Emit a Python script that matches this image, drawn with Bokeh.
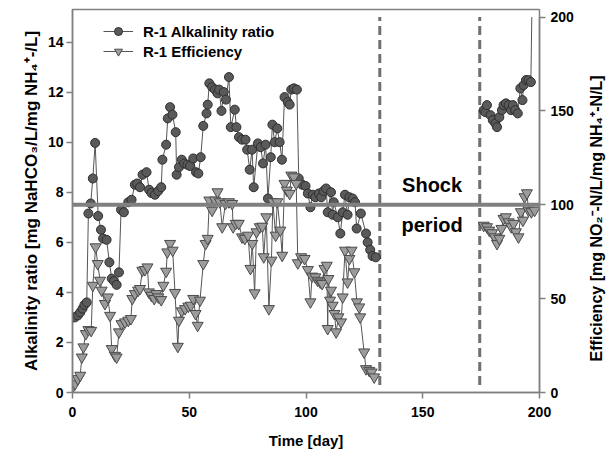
import math
from bokeh.plotting import figure
from bokeh.models import Range1d, LinearAxis, Span, Label, Legend, LegendItem, FixedTicker
from bokeh.embed import file_html
from bokeh.resources import INLINE

# ---------------- data ----------------
alk_day_1 = [0, 1, 2.3, 3.3, 4.3, 5.1, 6.1, 6.8, 7.8, 8.7, 9.7, 11.0, 12.2, 13.1, 14.6, 15.8, 16.8, 17.8, 18.9, 19.9,
             20.8, 22.0, 23.9, 25.3, 26.7, 27.7, 28.9, 30.0, 31.7, 32.8, 33.8, 35.3, 36.7, 38.0, 38.5, 40.1, 40.8, 41.8,
             42.8, 44.2, 44.6, 45.6, 46.8, 47.9, 49.2, 50.3, 51.7, 52.9, 53.9, 54.9, 56.0, 57.4, 57.9, 58.6, 59.8, 61.0,
             62.1, 62.8, 63.8, 64.8, 65.7, 67.0, 67.8, 69.5, 70.2, 71.3, 72.6, 74.1, 74.8, 75.9, 76.9, 77.6, 79.4, 80.6,
             81.6, 82.7, 83.7, 84.9, 85.6, 86.6, 87.7, 88.7, 89.7, 90.8, 92.2, 93.0, 93.7, 94.8, 96.1, 96.9, 98.4, 99.8,
             100.8, 101.9, 102.9, 104.0, 105.5, 106.5, 107.5, 108.6, 109.3, 110.7, 111.4, 111.9, 113.6, 114.7, 115.7,
             116.7, 117.8, 118.6, 120.0, 121.0, 121.7, 123.5, 125.7, 126.4, 127.5, 128.5, 129.9]
alk_1 = [3.0, 3.0, 3.08, 3.2, 3.35, 3.5, 3.6, 7.15, 7.55, 8.55, 9.97, 7.05, 6.5, 6.15, 6.1, 5.2, 4.55, 4.45, 4.3, 4.8,
         7.3, 7.2, 7.6, 7.7, 8.3, 8.35, 8.2, 8.7, 8.8, 8.1, 7.97, 7.9, 8.05, 8.2, 9.3, 9.9, 10.95, 11.4,
         11.1, 10.4, 8.7, 9.0, 9.3, 9.15, 9.1, 9.05, 9.35, 8.8, 8.75, 9.4, 10.65, 11.15, 11.5, 12.35, 12.2, 12.1,
         11.95, 12.1, 11.25, 12.0, 11.7, 12.6, 10.6, 11.3, 10.6, 10.2, 10.1, 10.1, 9.7, 8.9, 9.7, 8.2, 9.95, 9.8,
         9.15, 9.9, 7.75, 9.4, 10.7, 10.0, 10.55, 10.0, 9.3, 11.8, 11.6, 11.5, 12.1, 12.15, 12.1, 8.55, 8.3, 8.25,
         7.95, 7.4, 7.9, 7.8, 7.95, 7.8, 8.05, 8.15, 7.2, 8.0, 7.1, 7.6, 7.0, 6.35, 7.2,
         7.9, 7.1, 7.8, 7.75, 7.6, 6.55, 7.15, 6.35, 6.0, 5.7, 5.45, 5.4]

alk_day_2 = [176.1, 176.8, 177.5, 179.0, 180.0, 181.1, 181.8, 182.8, 183.9, 184.6, 185.6, 186.8, 187.8, 188.6,
             189.6, 190.7, 191.8, 192.7, 193.2, 194.2, 195.3, 196.3, 196.7]
alk_2 = [11.28, 11.2, 11.48, 11.08, 10.88, 10.75, 10.6, 11.0, 11.28, 11.48, 11.55, 11.48, 11.28, 11.48,
         11.28, 11.15, 12.15, 11.68, 12.28, 12.48, 12.48, 12.4, 15.0]

eff_day_1 = [0, 1.1, 2.3, 3.3, 4.0, 4.7, 5.7, 6.8, 8.0, 8.7,
             9.9, 10.8, 11.8, 12.5, 13.9, 15.1, 16.1, 16.8, 18.2, 18.9,
             19.9, 21.0, 22.5, 23.9, 25.0, 25.6, 26.7, 28.1, 28.9, 29.9,
             31.0, 32.1, 32.7, 33.8, 35.0, 35.9, 36.8, 38.0, 38.9, 40.1,
             40.6, 41.8, 42.9, 43.9, 45.1, 45.6, 46.8, 48.2, 49.6, 50.7,
             51.7, 52.7, 53.6, 54.6, 56.0, 57.0, 57.9, 58.6, 59.8, 61.0,
             62.1, 63.1, 64.1, 65.5, 67.0, 68.4, 68.8, 69.9, 71.2, 72.6,
             73.8, 75.2, 76.2, 77.0, 78.0, 78.8, 80.2, 81.3, 81.9, 83.0,
             84.1, 85.2, 85.8, 87.0, 87.7, 89.0, 89.8, 90.8, 91.8, 93.0,
             93.7, 94.8, 95.8, 96.5, 97.9, 99.4, 100.8, 101.9, 102.6, 104.0,
             105.0, 106.1, 106.9, 107.9, 108.9, 109.3, 109.6, 110.3, 110.7, 111.4,
             112.2, 112.9, 113.9, 115.0, 115.7, 116.7, 117.8, 118.6, 119.5, 120.7,
             121.8, 122.8, 123.2, 124.9, 125.7, 127.1, 128.1, 129.2]
eff_1 = [2.8, 4.6, 7.3, 9.1, 18.8, 24.2, 31.3, 33.4, 33.0, 57,
         77.5, 68.6, 59.7, 54.4, 47.3, 50.8, 41, 23.3, 19.7, 18.8,
         32.2, 36.6, 37.5, 38.4, 39.3, 50, 52.6, 54.4, 55.3, 65,
         65.4, 66.8, 53.5, 51.7, 50, 52.6, 50.8, 49.4, 57, 64.5,
         74.8, 79.3, 75.7, 53.2, 24.5, 38.4, 43.4, 44.6, 45.9, 46.4,
         50, 42, 35.7, 49.1, 68.6, 79.3, 82, 102.4, 97, 102.4,
         106.8, 101.5, 88.2, 100.6, 101.5, 100.6, 88.2, 90, 90, 82.8,
         82, 83.7, 66, 79.3, 53, 85.5, 88.2, 88.5, 72.2, 93.5,
         44.6, 70.4, 101.5, 83.7, 101.5, 86.4, 73, 111.3, 107.7, 106,
         115.7, 114.8, 111.3, 69, 72.2, 71.3, 65.4, 48.2, 61.9, 61.5,
         59.7, 58.8, 58, 66, 67.7, 34, 60.6, 49.1, 54.4, 46.4,
         42, 32.2, 40.2, 37.5, 50.8, 75.7, 58.8, 71.3, 75.7, 64.2,
         48.2, 45.5, 40.2, 21.5, 12.6, 11.7, 10.8, 8.2]

eff_day_2 = [176.1, 177.5, 178.5, 179.7, 180.8, 181.8, 182.8, 183.7, 184.6, 185.6, 186.8, 187.9, 188.9,
             189.9, 191.0, 192.0, 192.9, 193.6, 194.6, 195.3, 196.5, 197.9]
eff_2 = [89, 88.2, 86.4, 85, 82.8, 79.3, 82, 87.3, 92.6, 93.5, 90.8, 88.2, 90,
         85.5, 82.8, 96.2, 91.7, 104.2, 106.3, 97, 96.2, 97]

shock_start = 131.6
shock_end = 174.4
x_ticks = [0, 50, 100, 150, 200]
alk_ticks = [0, 2, 4, 6, 8, 10, 12, 14]
eff_ticks = [0, 50, 100, 150, 200]
target_eff = 100

# ---------------- figure ----------------
FONT = "Liberation Sans"
ALK_MAX = 15.3
EFF_MAX = ALK_MAX * 200 / 15.0

p = figure(width=616, height=458, x_range=Range1d(0, 200), y_range=Range1d(0, ALK_MAX),
           output_backend="svg", toolbar_location=None,
           min_border_left=72, min_border_right=75, min_border_top=9, min_border_bottom=66)
p.extra_y_ranges = {"eff": Range1d(0, EFF_MAX)}
p.xgrid.visible = False
p.ygrid.visible = False
p.outline_line_color = "#808080"
p.outline_line_width = 1.5
p.background_fill_color = "white"
p.border_fill_color = "white"

AX = "#808080"

def style_axis(ax):
    ax.axis_line_color = AX
    ax.axis_line_width = 1.5
    ax.major_tick_line_color = AX
    ax.major_tick_line_width = 1.5
    ax.major_tick_out = 6
    ax.major_tick_in = 0
    ax.minor_tick_line_color = None
    ax.major_label_text_font = FONT
    ax.major_label_text_font_style = "bold"
    ax.major_label_text_font_size = "14px"
    ax.major_label_text_color = "black"
    ax.axis_label_text_font = FONT
    ax.axis_label_text_font_style = "bold"
    ax.axis_label_text_font_size = "15px"
    ax.axis_label_text_color = "black"

xa = p.xaxis[0]
xa.ticker = FixedTicker(ticks=x_ticks)
style_axis(xa)
xa.axis_label = "Time [day]"
xa.major_label_standoff = 8
xa.axis_label_standoff = 12

ya = p.yaxis[0]
ya.ticker = FixedTicker(ticks=alk_ticks)
style_axis(ya)
ya.axis_label = "Alkalinity ratio [mg NaHCO\u2083/L/mg NH\u2084\u207a-/L]"
ya.axis_label_text_font_size = "17px"
ya.major_label_standoff = 3
ya.axis_label_standoff = 4

ra = LinearAxis(y_range_name="eff", ticker=FixedTicker(ticks=eff_ticks), bounds=(0, 200))
style_axis(ra)
ra.major_label_standoff = 5
props = ra.properties()
right_label = "Efficiency [mg NO\u2082\u207b-N/L/mg NH\u2084\u207a-N/L]"
ra.axis_label_text_font_size = "16px"
ra.axis_label_standoff = 20
if "axis_label_orientation" in props and "axis_label_align" in props:
    ra.axis_label = "\u00a0" * 7 + right_label
    ra.axis_label_orientation = math.pi / 2
    try:
        ra.axis_label_align = "start"
    except Exception:
        pass
else:
    ra.axis_label = right_label
p.add_layout(ra, "right")

# reference line and shock period boundaries
p.add_layout(Span(location=target_eff, dimension="width", y_range_name="eff",
                  line_color="#808080", line_width=4))
for xb in (shock_start, shock_end):
    p.segment(x0=[xb], y0=[0.3], x1=[xb], y1=[15.0], line_color="#707070",
              line_width=3, line_dash="9 5")

# series
LINE = "#555555"
l1 = p.line(alk_day_1, alk_1, line_color=LINE, line_width=1)
l2 = p.line(alk_day_2, alk_2, line_color=LINE, line_width=1)
c1 = p.scatter(alk_day_1, alk_1, marker="circle", size=9, fill_color="#5a5a5a", line_color="#2e2e2e", line_width=1)
c2 = p.scatter(alk_day_2[:-1], alk_2[:-1], marker="circle", size=9, fill_color="#5a5a5a", line_color="#2e2e2e", line_width=1)

e1 = p.line(eff_day_1, eff_1, line_color=LINE, line_width=1, y_range_name="eff")
e2 = p.line(eff_day_2, eff_2, line_color=LINE, line_width=1, y_range_name="eff")
t1 = p.scatter(eff_day_1, eff_1, marker="inverted_triangle", size=11, fill_color="#9c9c9c",
               line_color="#4a4a4a", line_width=1, y_range_name="eff")
t2 = p.scatter(eff_day_2, eff_2, marker="inverted_triangle", size=11, fill_color="#9c9c9c",
               line_color="#4a4a4a", line_width=1, y_range_name="eff")

# texts
for txt, yv in (("Shock", 8.3), ("period", 6.7)):
    p.add_layout(Label(x=154, y=yv, text=txt, text_align="center", text_baseline="middle",
                       text_font=FONT, text_font_style="bold", text_font_size="20px", text_color="black"))

legend = Legend(items=[LegendItem(label="R-1 Alkalinity ratio", renderers=[l1, c1]),
                       LegendItem(label="R-1 Efficiency", renderers=[e1, t1])],
                location=(31, 331), orientation="vertical")
legend.background_fill_alpha = 0
legend.border_line_color = None
legend.padding = 0
legend.margin = 0
legend.spacing = 0
legend.glyph_width = 30
legend.glyph_height = 20
legend.label_height = 20
legend.label_standoff = 10
legend.label_text_font = FONT
legend.label_text_font_style = "bold"
legend.label_text_font_size = "15px"
legend.label_text_color = "black"
p.add_layout(legend)

open("out.html", "w").write(file_html(p, INLINE))
